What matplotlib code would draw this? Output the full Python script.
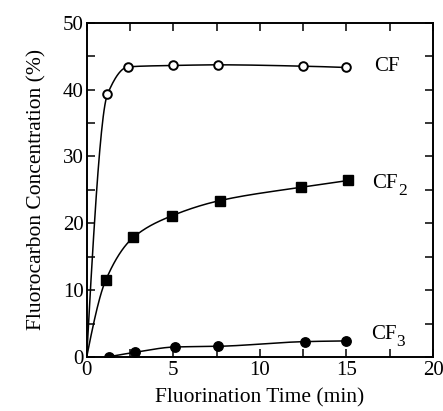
import numpy as np
import matplotlib
matplotlib.use("Agg")
import matplotlib.pyplot as plt
from matplotlib.ticker import MultipleLocator

# values
cf_t = [1.2, 2.4, 5.0, 7.6, 12.5, 15.0]
cf_y = [39.3, 43.4, 43.6, 43.7, 43.5, 43.3]
cf2_t = [1.1, 2.7, 4.9, 7.7, 12.4, 15.1]
cf2_y = [11.5, 17.9, 21.1, 23.4, 25.4, 26.4]
cf3_t = [1.3, 2.8, 5.1, 7.6, 12.6, 15.0]
cf3_y = [0.05, 0.7, 1.5, 1.6, 2.3, 2.4]


def end_slope(h0, h1, d0, d1):
    s = ((2 * h0 + h1) * d0 - h0 * d1) / (h0 + h1)
    if np.sign(s) != np.sign(d0):
        s = 0.0
    elif np.sign(d0) != np.sign(d1) and abs(s) > abs(3 * d0):
        s = 3 * d0
    return s


def pchip(x, y, n=300):
    """Monotone cubic guide curve through the measured points."""
    x = np.asarray(x, float)
    y = np.asarray(y, float)
    h = np.diff(x)
    d = np.diff(y) / h
    m = np.zeros_like(x)
    for k in range(1, len(x) - 1):
        if d[k - 1] * d[k] > 0:
            w1 = 2 * h[k] + h[k - 1]
            w2 = h[k] + 2 * h[k - 1]
            m[k] = (w1 + w2) / (w1 / d[k - 1] + w2 / d[k])
    m[0] = end_slope(h[0], h[1], d[0], d[1])
    m[-1] = end_slope(h[-1], h[-2], d[-1], d[-2])
    xs = np.linspace(x[0], x[-1], n)
    idx = np.clip(np.searchsorted(x, xs) - 1, 0, len(h) - 1)
    t = (xs - x[idx]) / h[idx]
    h00 = 2 * t**3 - 3 * t**2 + 1
    h10 = t**3 - 2 * t**2 + t
    h01 = -2 * t**3 + 3 * t**2
    h11 = t**3 - t**2
    ys = h00 * y[idx] + h10 * h[idx] * m[idx] + h01 * y[idx + 1] + h11 * h[idx] * m[idx + 1]
    return xs, ys


plt.rcParams['font.family'] = ['Liberation Serif', 'DejaVu Serif']

fig = plt.figure(figsize=(4.43, 4.11), dpi=100)
ax = fig.add_axes([86.7 / 443, 1 - 357 / 411, (433 - 86.7) / 443, (357 - 22.7) / 411])

lw = 1.1
x, y = pchip([0] + cf_t, [0] + cf_y)
ax.plot(x, y, color='black', lw=lw)
ax.plot(cf_t, cf_y, 'o', ms=6.2, mfc='white', mec='black', mew=1.4)

x, y = pchip([0] + cf2_t, [0] + cf2_y)
ax.plot(x, y, color='black', lw=lw)
ax.plot(cf2_t, cf2_y, 's', ms=7, color='black')

x, y = pchip(cf3_t, cf3_y)
ax.plot(x, y, color='black', lw=lw)
ax.plot(cf3_t, cf3_y, 'o', ms=6.8, color='black')

ax.text(16.6, 43.5, 'CF', fontsize=15, va='center')
for xt, yt, sub in [(16.5, 26.0, '2'), (16.4, 3.4, '3')]:
    base = ax.text(xt, yt, 'CF', fontsize=15, va='center')
    ax.annotate(sub, xy=(1, 0), xycoords=base, xytext=(0.3, -4.5), textcoords='offset points',
                fontsize=12.5, va='bottom', ha='left')

ax.set_xlim(0, 20)
ax.set_ylim(0, 50)
ax.xaxis.set_major_locator(MultipleLocator(5))
ax.xaxis.set_minor_locator(MultipleLocator(2.5))
ax.yaxis.set_major_locator(MultipleLocator(10))
ax.yaxis.set_minor_locator(MultipleLocator(5))
ax.tick_params(which='both', direction='in', top=True, right=True, length=6, width=1.1, labelsize=15)
ax.tick_params(axis='x', pad=3)
ax.tick_params(axis='y', pad=2)
for s in ax.spines.values():
    s.set_linewidth(1.4)

ax.set_xlabel('Fluorination Time (min)', fontsize=15.5, labelpad=6)
ax.set_ylabel('Fluorocarbon Concentration (%)', fontsize=15.5, labelpad=12)

fig.savefig('out.png', dpi=100)
